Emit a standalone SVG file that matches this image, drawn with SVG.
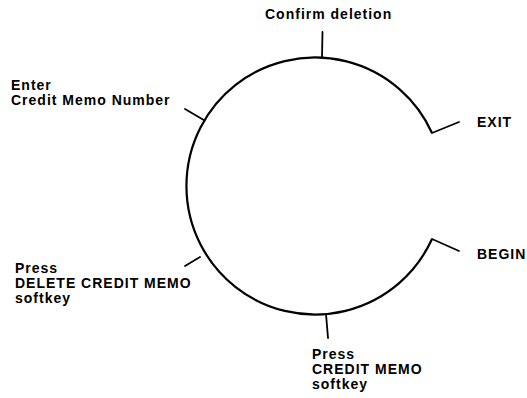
<svg xmlns="http://www.w3.org/2000/svg" width="527" height="398" viewBox="0 0 527 398">
  <style>
    .lbl { font-family: "Liberation Sans", Arial, Helvetica, sans-serif; font-size: 14px; font-weight: bold; letter-spacing: 1px; fill: #000; }
    .ring { fill: none; stroke: #000; stroke-width: 2.2; }
    .tick { fill: none; stroke: #000; stroke-width: 1.8; stroke-linecap: round; stroke-linejoin: miter; }
  </style>
  <rect width="527" height="398" fill="#fff"/>

  <!-- the cycle: open circle, gap on the right between EXIT and BEGIN -->
  <g id="cycle">
    <path class="ring" d="M432,133 A128.5,128.5 0 1 0 432,239"/>
  </g>

  <!-- ticks joining each step label to the cycle -->
  <g id="connectors">
    <path class="tick" d="M459,122 L432,133"/>
    <path class="tick" d="M459,251 L432,239"/>
    <path class="tick" d="M322,57 L322.5,32"/>
    <path class="tick" d="M204.6,120.6 L185,109"/>
    <path class="tick" d="M200,257 L185,266"/>
    <path class="tick" d="M326,314 L328,338"/>
  </g>

  <g id="step-confirm">
    <text class="lbl" x="265" y="19">Confirm deletion</text>
  </g>
  <g id="step-enter">
    <text class="lbl" x="11" y="89.5">Enter</text>
    <text class="lbl" x="11" y="105">Credit Memo Number</text>
  </g>
  <g id="step-delete">
    <text class="lbl" x="15" y="273">Press</text>
    <text class="lbl" x="15" y="288">DELETE CREDIT MEMO</text>
    <text class="lbl" x="15" y="303">softkey</text>
  </g>
  <g id="step-credit">
    <text class="lbl" x="312" y="359">Press</text>
    <text class="lbl" x="312" y="374">CREDIT MEMO</text>
    <text class="lbl" x="312" y="389">softkey</text>
  </g>
  <g id="exit">
    <text class="lbl" x="477" y="127">EXIT</text>
  </g>
  <g id="begin">
    <text class="lbl" x="477" y="259">BEGIN</text>
  </g>
</svg>
